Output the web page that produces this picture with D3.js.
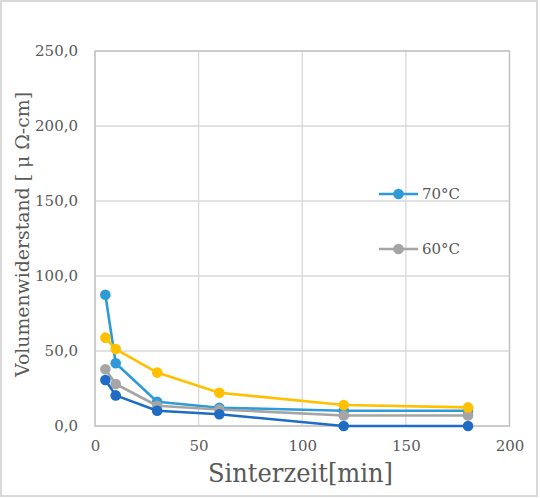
<!DOCTYPE html>
<html><head><meta charset="utf-8">
<script src="https://cdn.jsdelivr.net/npm/d3@7"></script>
<style>body{margin:0;background:#fff;} svg text{fill:#595959;}</style>
</head><body>
<script>
const times = [5, 10, 30, 60, 120, 180];
const s70 = [87.5, 41.8, 16.2, 12.2, 10.2, 10.2];
const s60 = [37.8, 28.0, 13.5, 11.0, 7.0, 7.0];
const sYellow = [58.9, 51.3, 35.6, 22.2, 14.0, 12.4];
const sDark = [30.7, 20.4, 10.2, 7.8, 0.0, 0.0];
const xTicks = [0, 50, 100, 150, 200];
const yTicks = [0, 50, 100, 150, 200, 250];
const series = [
  {name: "70°C", values: s70, color: "#2E9BD6", legend: true},
  {name: "60°C", values: s60, color: "#A5A5A5", legend: true},
  {name: "", values: sYellow, color: "#FFC000", legend: false},
  {name: "", values: sDark, color: "#1F6CC4", legend: false}
];

const W = 540, H = 498;
const SERIF = "DejaVu Serif";
const svg = d3.select("body").append("svg").attr("width", W).attr("height", H);
svg.append("rect").attr("x", 1).attr("y", 1).attr("width", 536).attr("height", 495)
  .attr("fill", "#fff").attr("stroke", "#D9D9D9").attr("stroke-width", 2);

const x = d3.scaleLinear().domain([0, 200]).range([95, 509.5]);
const y = d3.scaleLinear().domain([0, 250]).range([426, 51]);

const g = svg.append("g");
g.selectAll(".hg").data(yTicks).join("line")
  .attr("x1", x(0)).attr("x2", x(200)).attr("y1", d => y(d)).attr("y2", d => y(d))
  .attr("stroke", "#D9D9D9").attr("stroke-width", 1.3);
g.selectAll(".vg").data(xTicks).join("line")
  .attr("y1", y(0)).attr("y2", y(250)).attr("x1", d => x(d)).attr("x2", d => x(d))
  .attr("stroke", "#D9D9D9").attr("stroke-width", 1.3);
g.append("rect").attr("x", x(0)).attr("y", y(250)).attr("width", x(200) - x(0)).attr("height", y(0) - y(250))
  .attr("fill", "none").attr("stroke", "#BFBFBF").attr("stroke-width", 1.3);

const fmt = v => d3.format(".1f")(v).replace(".", ",");
const yAxis = d3.axisLeft(y).tickValues(yTicks).tickFormat(fmt).tickSize(0).tickPadding(17);
const ya = svg.append("g").attr("transform", `translate(${x(0)},0)`).call(yAxis);
ya.select(".domain").remove();
ya.selectAll("text").style("font-family", SERIF).style("font-size", "15px").attr("fill", "#595959");

const xAxis = d3.axisBottom(x).tickValues(xTicks).tickFormat(d3.format("d")).tickSize(0).tickPadding(14);
const xa = svg.append("g").attr("transform", `translate(0,${y(0)})`).call(xAxis);
xa.select(".domain").remove();
xa.selectAll("text").style("font-family", SERIF).style("font-size", "15px").attr("fill", "#595959");

const line = d3.line().x((d, i) => x(times[i])).y(d => y(d));
series.forEach(s => {
  svg.append("path").datum(s.values).attr("d", line).attr("fill", "none")
    .attr("stroke", s.color).attr("stroke-width", 2.6).attr("stroke-linejoin", "round");
  svg.selectAll(null).data(s.values).join("circle")
    .attr("cx", (d, i) => x(times[i])).attr("cy", d => y(d)).attr("r", 5.3).attr("fill", s.color);
});

const leg = series.filter(s => s.legend);
const ly = [194, 249];
leg.forEach((s, i) => {
  svg.append("line").attr("x1", 379).attr("x2", 418).attr("y1", ly[i]).attr("y2", ly[i])
    .attr("stroke", s.color).attr("stroke-width", 2.6);
  svg.append("circle").attr("cx", 398.5).attr("cy", ly[i]).attr("r", 5.3).attr("fill", s.color);
  svg.append("text").attr("x", 422).attr("y", ly[i]).attr("dy", "0.35em")
    .style("font-family", SERIF).style("font-size", "15px").text(s.name);
});

svg.append("text").attr("x", 300.5).attr("y", 482).attr("text-anchor", "middle")
  .style("font-family", SERIF).style("font-size", "26px").attr("textLength", 185).attr("lengthAdjust", "spacingAndGlyphs").text("Sinterzeit[min]");
svg.append("text").attr("transform", "translate(29,234.5) rotate(-90)").attr("text-anchor", "middle")
  .style("font-family", SERIF).style("font-size", "18px").attr("textLength", 285).attr("lengthAdjust", "spacingAndGlyphs")
  .text("Volumenwiderstand [ μ Ω-cm]");
</script>
</body></html>
